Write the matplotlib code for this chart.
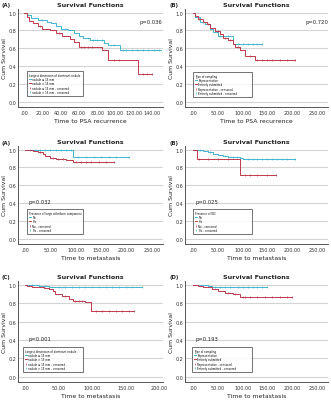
import numpy as np
import matplotlib.pyplot as plt

CYAN = '#3fb6cf'
RED = '#c0394b'

# ---- panel data (event times / survival estimates, censored times, last follow-up) ----
# Row 1 left: PSA recurrence by nodule size
a1_cyan_t = [0, 3, 8, 15, 25, 30, 35, 40, 48, 55, 60, 65, 72, 88, 92, 105]
a1_cyan_s = [1.0, 0.97, 0.94, 0.92, 0.90, 0.88, 0.85, 0.82, 0.80, 0.77, 0.74, 0.72, 0.69, 0.66, 0.64, 0.58]
a1_cyan_c = [20, 45, 70, 75, 80, 85, 98, 108, 112, 118, 124, 130, 136, 142, 148]
a1_cyan_end = 150
a1_red_t = [0, 3, 6, 10, 15, 20, 28, 35, 42, 50, 55, 60, 85, 92, 125]
a1_red_s = [1.0, 0.95, 0.91, 0.88, 0.85, 0.82, 0.80, 0.77, 0.74, 0.71, 0.67, 0.62, 0.58, 0.47, 0.31]
a1_red_c = [18, 38, 62, 66, 70, 74, 98, 104, 130, 135, 140]
a1_red_end = 140

# Row 1 right: PSA recurrence by type of sampling
b1_cyan_t = [0, 5, 15, 25, 35, 40, 50, 80]
b1_cyan_s = [1.0, 0.95, 0.90, 0.87, 0.82, 0.78, 0.74, 0.65]
b1_cyan_c = [20, 55, 60, 70, 90, 100, 110, 120, 130, 140]
b1_cyan_end = 140
b1_red_t = [0, 5, 10, 20, 28, 35, 45, 55, 60, 70, 80, 85, 95, 105, 125]
b1_red_s = [1.0, 0.96, 0.93, 0.90, 0.87, 0.83, 0.79, 0.76, 0.72, 0.69, 0.65, 0.62, 0.58, 0.52, 0.47]
b1_red_c = [12, 30, 50, 65, 75, 90, 115, 130, 140, 150, 160, 175, 190, 205]
b1_red_end = 205

# Row 2 left: metastasis by large cribriform component
a2_cyan_t = [0, 3, 95]
a2_cyan_s = [1.0, 0.99, 0.92]
a2_cyan_c = [10, 20, 30, 40, 50, 60, 70, 80, 90, 105, 120, 135, 150, 165, 180, 205]
a2_cyan_end = 205
a2_red_t = [0, 5, 15, 25, 35, 40, 50, 60, 70, 80, 95]
a2_red_s = [1.0, 0.99, 0.98, 0.97, 0.95, 0.93, 0.91, 0.90, 0.89, 0.88, 0.86]
a2_red_c = [30, 55, 65, 75, 100, 110, 120, 130, 145, 160, 175]
a2_red_end = 175

# Row 2 right: metastasis by presence of IDC
b2_cyan_t = [0, 10, 20, 30, 40, 50, 60, 70, 95, 100]
b2_cyan_s = [1.0, 0.99, 0.98, 0.97, 0.95, 0.94, 0.93, 0.92, 0.91, 0.90]
b2_cyan_c = [15, 35, 65, 80, 88, 110, 120, 130, 140, 150, 160, 170, 180, 190, 205]
b2_cyan_end = 205
b2_red_t = [0, 8, 95]
b2_red_s = [1.0, 0.90, 0.72]
b2_red_c = [12, 30, 50, 70, 105, 115, 130, 150, 168]
b2_red_end = 168

# Row 3 left: metastasis by nodule size
c3_cyan_t = [0, 20, 35, 45]
c3_cyan_s = [1.0, 0.99, 0.98, 0.97]
c3_cyan_c = [10, 30, 50, 60, 70, 80, 90, 100, 110, 120, 130, 140, 150, 160, 175]
c3_cyan_end = 175
c3_red_t = [0, 3, 10, 18, 28, 35, 42, 45, 55, 65, 72, 90, 98]
c3_red_s = [1.0, 0.99, 0.98, 0.97, 0.96, 0.95, 0.93, 0.90, 0.88, 0.85, 0.82, 0.81, 0.71]
c3_red_c = [60, 75, 80, 85, 105, 115, 125, 135, 145, 155, 162]
c3_red_end = 162

# Row 3 right: metastasis by type of sampling
d3_cyan_t = [0, 30, 38]
d3_cyan_s = [1.0, 0.99, 0.97]
d3_cyan_c = [45, 55, 65, 75, 90, 100, 110, 120, 130, 140, 150]
d3_cyan_end = 150
d3_red_t = [0, 10, 20, 30, 38, 50, 65, 80, 95]
d3_red_s = [1.0, 0.99, 0.98, 0.97, 0.95, 0.93, 0.91, 0.90, 0.87]
d3_red_c = [70, 85, 100, 105, 115, 130, 145, 160, 175, 190, 200]
d3_red_end = 200

panels = [
    dict(tag='(A)', xlabel='Time to PSA recurrence', ticks=[0, 20, 40, 60, 80, 100, 120, 140],
         xlim=(-6.5, 152), p='p=0.036', ppos=(0.84, 0.86),
         cyan=(a1_cyan_t, a1_cyan_s, a1_cyan_c, a1_cyan_end),
         red=(a1_red_t, a1_red_s, a1_red_c, a1_red_end),
         legtitle='Largest dimension of dominant nodule',
         labels=['nodule \u2264 15 mm', 'nodule > 15 mm',
                 'nodule \u2264 15 mm - censored', 'nodule > 15 mm - censored']),
    dict(tag='(B)', xlabel='Time to PSA recurrence', ticks=[0, 50, 100, 150, 200, 250],
         xlim=(-16, 272), p='p=0.720', ppos=(0.84, 0.86),
         cyan=(b1_cyan_t, b1_cyan_s, b1_cyan_c, b1_cyan_end),
         red=(b1_red_t, b1_red_s, b1_red_c, b1_red_end),
         legtitle='Type of sampling',
         labels=['Representative', 'Entirely submitted',
                 'Representative - censored', 'Entirely submitted - censored']),
    dict(tag='(A)', xlabel='Time to metastasis', ticks=[0, 50, 100, 150, 200, 250],
         xlim=(-14, 272), p='p=0.032', ppos=(0.07, 0.42),
         cyan=(a2_cyan_t, a2_cyan_s, a2_cyan_c, a2_cyan_end),
         red=(a2_red_t, a2_red_s, a2_red_c, a2_red_end),
         legtitle='Presence of large cribriform component',
         labels=['No', 'Yes', 'No - censored', 'Yes - censored']),
    dict(tag='(B)', xlabel='Time to metastasis', ticks=[0, 50, 100, 150, 200, 250],
         xlim=(-16, 272), p='p=0.025', ppos=(0.07, 0.42),
         cyan=(b2_cyan_t, b2_cyan_s, b2_cyan_c, b2_cyan_end),
         red=(b2_red_t, b2_red_s, b2_red_c, b2_red_end),
         legtitle='Presence of IDC',
         labels=['No', 'Yes', 'No - censored', 'Yes - censored']),
    dict(tag='(C)', xlabel='Time to metastasis', ticks=[0, 50, 100, 150, 200],
         xlim=(-11, 206), p='p=0.001', ppos=(0.07, 0.42),
         cyan=(c3_cyan_t, c3_cyan_s, c3_cyan_c, c3_cyan_end),
         red=(c3_red_t, c3_red_s, c3_red_c, c3_red_end),
         legtitle='Largest dimension of dominant nodule',
         labels=['nodule \u2264 15 mm', 'nodule > 15 mm',
                 'nodule \u2264 15 mm - censored', 'nodule > 15 mm - censored']),
    dict(tag='(D)', xlabel='Time to metastasis', ticks=[0, 50, 100, 150, 200, 250],
         xlim=(-16, 272), p='p=0.193', ppos=(0.07, 0.42),
         cyan=(d3_cyan_t, d3_cyan_s, d3_cyan_c, d3_cyan_end),
         red=(d3_red_t, d3_red_s, d3_red_c, d3_red_end),
         legtitle='Type of sampling',
         labels=['Representative', 'Entirely submitted',
                 'Representative - censored', 'Entirely submitted - censored']),
]


def km_curve(ax, t, s, cens, end, color):
    tt = list(t) + [end]
    ss = list(s) + [s[-1]]
    line, = ax.step(tt, ss, where='post', color=color, lw=0.7)
    idx = np.searchsorted(np.array(t), np.array(cens), side='right') - 1
    cs = np.array(s)[idx]
    mk, = ax.plot(cens, cs, ls='none', marker='|', ms=1.6, mew=0.5, color=color)
    return line, mk


def fmt(v):
    return '.00' if v == 0 else f'{v:.2f}'


fig = plt.figure(figsize=(3.31, 4.02), dpi=100)
W, H = 331, 402
# axes boxes in pixels: (left, top, right, bottom)
boxes = [
    (18, 10, 163, 108), (185, 10, 328, 108),
    (18, 147, 163, 245), (185, 147, 328, 245),
    (18, 282, 163, 383), (185, 282, 328, 383),
]
legboxes = [
    (27, 72, 83, 93), (193, 73, 252, 97),
    (27, 210, 83, 233), (193, 210, 252, 233),
    (23, 348, 83, 373), (192, 348, 252, 373),
]

for pan, (l, t, r, b), lb in zip(panels, boxes, legboxes):
    ax = fig.add_axes([l / W, 1 - b / H, (r - l) / W, (b - t) / H])
    cl, cm = km_curve(ax, *pan['cyan'], CYAN)
    rl, rm = km_curve(ax, *pan['red'], RED)
    ax.set_xlim(*pan['xlim'])
    ax.set_ylim(-0.055, 1.04)
    ax.set_yticks([0, 0.2, 0.4, 0.6, 0.8, 1.0])
    ax.set_yticklabels(['0.0', '0.2', '0.4', '0.6', '0.8', '1.0'])
    ax.set_xticks(pan['ticks'])
    ax.set_xticklabels([fmt(v) for v in pan['ticks']])
    ax.tick_params(labelsize=3.5, length=0, colors='#333333')
    ax.tick_params(axis='y', pad=1.2)
    ax.tick_params(axis='x', pad=2)
    ax.grid(axis='y', color='#d4d4d4', lw=0.8)
    ax.set_axisbelow(True)
    for sp in ['top', 'right']:
        ax.spines[sp].set_visible(False)
    for sp in ['left', 'bottom']:
        ax.spines[sp].set_color('#555555')
        ax.spines[sp].set_linewidth(0.7)
    ax.set_title('Survival Functions', fontsize=4.6, fontweight='bold', pad=2.5, color='#222222')
    ax.set_xlabel(pan['xlabel'], fontsize=4.4, labelpad=2, color='#222222')
    ax.set_ylabel('Cum Survival', fontsize=4.4, labelpad=1, color='#222222')
    ax.text(pan['ppos'][0], pan['ppos'][1], pan['p'], transform=ax.transAxes,
            fontsize=3.8, color='#222222')
    fig.text((l - 16) / W, 1 - (t - 4) / H, pan['tag'], fontsize=3.8,
             fontweight='bold', va='center', ha='left', color='#222222')

    # legend box
    lx0, ly0 = (lb[0] - l) / (r - l), (b - lb[3]) / (b - t)
    lw_, lh = (lb[2] - lb[0]) / (r - l), (lb[3] - lb[1]) / (b - t)
    leg = ax.legend([cl, rl, rm, cm], pan['labels'], title=pan['legtitle'],
                    loc='upper left', bbox_to_anchor=(lx0, ly0, lw_, lh), mode='expand',
                    fontsize=1.9, title_fontsize=1.9, frameon=True, fancybox=False,
                    handlelength=1.0, handletextpad=0.4, labelspacing=0.15,
                    borderpad=0.6, borderaxespad=0)
    leg._legend_box.align = 'left'
    leg.get_frame().set_edgecolor('#333333')
    leg.get_frame().set_linewidth(0.6)

fig.savefig('out.png', dpi=100)
